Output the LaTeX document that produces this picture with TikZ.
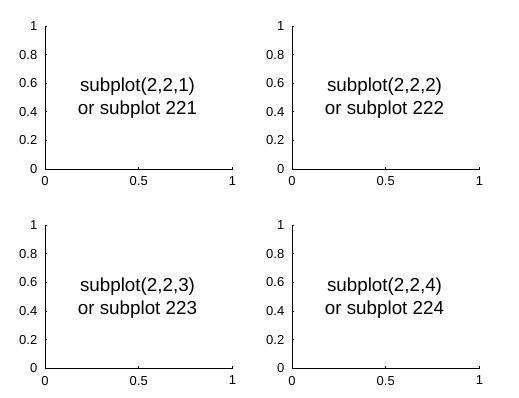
\documentclass[tikz,border=0pt]{standalone}
\usepackage{fontspec}
\setmainfont{Liberation Sans}
\tikzset{
  axisline/.style={line width=0.8pt, black},
  tickmark/.style={line width=0.8pt, black},
  ticklabel/.style={font=\fontsize{13}{13}\selectfont, inner sep=0pt},
  paneltext/.style={font=\fontsize{18.8}{23}\selectfont, align=center, inner sep=0pt}
}
\newcommand{\mypanel}[4]{% #1 left x, #2 bottom y, #3 index, #4 name
  \begin{scope}[shift={(#1,#2)}]
    \coordinate (#4o) at (0,0);
    \coordinate (#4x) at (187.5,0);
    \coordinate (#4y) at (0,143);
    \draw[axisline] (#4y) -- (#4o) -- (#4x);
    \foreach \v/\lab/\k in {0/0/a,0.2/0.2/b,0.4/0.4/c,0.6/0.6/d,0.8/0.8/e,1/1/f}{
      \coordinate (#4yt\k) at (0,143*\v);
      \draw[tickmark] (#4yt\k) -- ++(2,0);
      \node[ticklabel, anchor=east] (#4yl\k) at ([xshift=-7.5]#4yt\k) {\lab};
    }
    \foreach \v/\lab/\k in {0/0/a,0.5/0.5/b,1/1/c}{
      \coordinate (#4xt\k) at (187.5*\v,0);
      \draw[tickmark] (#4xt\k) -- ++(0,2);
      \node[ticklabel, anchor=north] (#4xl\k) at ([yshift=-7.5]#4xt\k) {\lab};
    }
    \node[paneltext] (#4t) at (92.5,70.5) {subplot(2,2,#3)\\or subplot 22#3};
  \end{scope}
}
\begin{document}
\begin{tikzpicture}[x=1pt,y=1pt]
  \useasboundingbox (0,0) rectangle (519,398);
  \mypanel{45}{229}{1}{pa}
  \mypanel{292}{229}{2}{pb}
  \mypanel{45}{29.7}{3}{pc}
  \mypanel{292}{29.7}{4}{pd}
\end{tikzpicture}
\end{document}
